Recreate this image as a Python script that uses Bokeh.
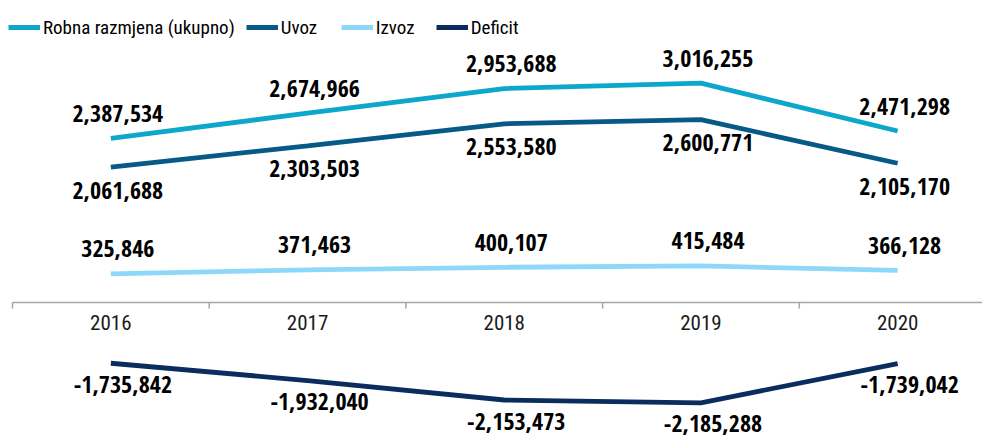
from bokeh.plotting import figure
from bokeh.models import Range1d, Legend, LegendItem, ColumnDataSource
from bokeh.core.properties import value
from bokeh.embed import file_html
from bokeh.resources import INLINE
import math

# ---- data ----
years = ["2016", "2017", "2018", "2019", "2020"]
robna = [2387534, 2674966, 2953688, 3016255, 2471298]
uvoz = [2061688, 2303503, 2553580, 2600771, 2105170]
izvoz = [325846, 371463, 400107, 415484, 366128]
deficit = [-1735842, -1932040, -2153473, -2185288, -1739042]

FONT_B = "Open Sans Condensed"
FONT_R = "Roboto Condensed"
C_ROBNA = "#0EA7CC"
C_UVOZ = "#075A86"
C_IZVOZ = "#8DD8F8"
C_DEF = "#0A2D5E"
C_AXIS = "#A6A6A6"

W, H = 982, 437
PX_PER_UNIT_X = 196.7
PX_PER_M = 88.0

x = list(range(len(years)))
x_start = -0.5 - 12 / PX_PER_UNIT_X
x_end = x_start + W / PX_PER_UNIT_X


def yr(zero_px):
    # frame spans screen y 0..H ; zero_px is the screen y of the zero line
    top = zero_px / PX_PER_M * 1e6
    bot = -(H - zero_px) / PX_PER_M * 1e6
    return Range1d(bot, top)


p = figure(width=W, height=H, output_backend="svg", toolbar_location=None,
           x_range=Range1d(x_start, x_end), y_range=yr(302),
           min_border=0, min_border_left=0, min_border_right=0,
           min_border_top=0, min_border_bottom=0)
p.extra_y_ranges = {"tot": yr(348), "def": yr(210)}
p.xaxis.visible = False
p.yaxis.visible = False
p.grid.visible = False
p.outline_line_color = None
p.background_fill_color = "white"

# axis line and ticks at category boundaries
bounds = [i - 0.5 for i in range(len(years) + 1)]
p.ray(x=[bounds[0]], y=[0], length=0, angle=0, line_color=C_AXIS, line_width=1.5)
p.ray(x=bounds, y=[0] * len(bounds), length=6, length_units="screen",
      angle=-math.pi / 2, line_color=C_AXIS, line_width=1.5)
p.text(x=x, y=[0] * len(x), text=years, text_align="center", text_baseline="middle",
       y_offset=20, text_font=value(FONT_R), text_font_size="21px", text_color="#1a1a1a")

src = ColumnDataSource(dict(
    x=x, robna=robna, uvoz=uvoz, izvoz=izvoz, deficit=deficit,
    l_robna=[f"{v:,}" for v in robna], l_uvoz=[f"{v:,}" for v in uvoz],
    l_izvoz=[f"{v:,}" for v in izvoz], l_def=[f"{v:,}" for v in deficit]))

r_robna = p.line("x", "robna", source=src, y_range_name="tot", line_color=C_ROBNA, line_width=4.8)
r_uvoz = p.line("x", "uvoz", source=src, y_range_name="tot", line_color=C_UVOZ, line_width=4.8)
r_izvoz = p.line("x", "izvoz", source=src, line_color=C_IZVOZ, line_width=4.8)
r_def = p.line("x", "deficit", source=src, y_range_name="def", line_color=C_DEF, line_width=4.8)

lbl = dict(text_align="center", text_baseline="middle", text_font=value(FONT_B),
           text_font_size="24px", text_font_style="bold", text_color="#000000")
p.text("x", "robna", text="l_robna", source=src, y_range_name="tot", x_offset=7, y_offset=-25, **lbl)
p.text("x", "uvoz", text="l_uvoz", source=src, y_range_name="tot", x_offset=7, y_offset=23, **lbl)
p.text("x", "izvoz", text="l_izvoz", source=src, x_offset=7, y_offset=-25, **lbl)
p.text("x", "deficit", text="l_def", source=src, y_range_name="def", x_offset=12, y_offset=21, **lbl)

legend = Legend(items=[
    LegendItem(label="Robna razmjena (ukupno)", renderers=[r_robna]),
    LegendItem(label="Uvoz", renderers=[r_uvoz]),
    LegendItem(label="Izvoz", renderers=[r_izvoz]),
    LegendItem(label="Deficit", renderers=[r_def]),
], location="top_left", orientation="horizontal", margin=8, padding=0,
    spacing=11, glyph_width=32, glyph_height=38, label_height=38, label_width=49,
    label_standoff=3, label_text_font=FONT_R, label_text_font_size="19px",
    label_text_color="#000000", border_line_color=None, background_fill_alpha=0)
p.add_layout(legend, "center")

open("out.html", "w").write(file_html(p, INLINE))
